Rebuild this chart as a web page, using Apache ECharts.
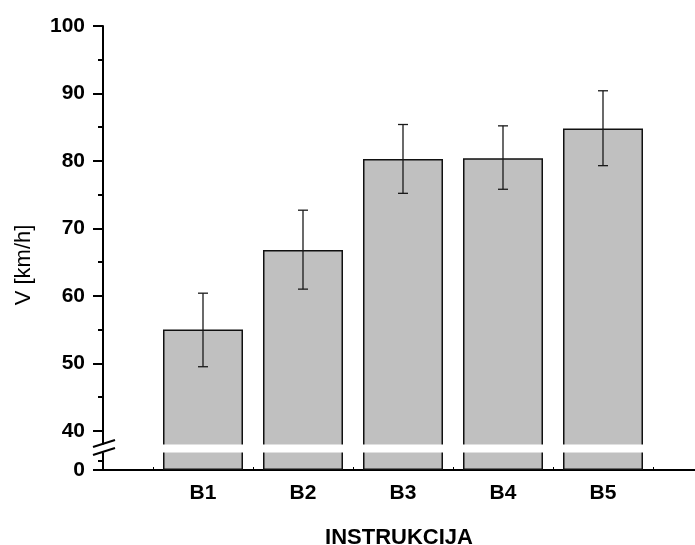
<!DOCTYPE html>
<html>
<head>
<meta charset="utf-8">
<script src="https://cdn.jsdelivr.net/npm/echarts@6/dist/echarts.min.js"></script>
<style>html,body{margin:0;padding:0;background:#fff}#c{width:695px;height:545px}</style>
</head>
<body>
<div id="c"></div>
<script>
var categories = ['B1', 'B2', 'B3', 'B4', 'B5'];
var means = [55.0, 66.8, 80.3, 80.4, 84.8];
var errLow = [49.5, 61.0, 75.2, 75.8, 79.3];
var errHigh = [60.4, 72.7, 85.4, 85.2, 90.4];
var yMajorTicks = [40, 50, 60, 70, 80, 90, 100];
var yMinorTicks = [45, 55, 65, 75, 85, 95];
var lowerMajorTicks = [0];
var lowerMinorTicks = [1];
var xTitle = 'INSTRUKCIJA';
var yTitle = 'V [km/h]';

var FONT = '"Liberation Sans", Arial, sans-serif';
var chart = echarts.init(document.getElementById('c'), null, {renderer: 'canvas'});

var barData = categories.map(function (c, i) { return [i + 1, means[i]]; });
var errData = categories.map(function (c, i) { return [i + 1, errLow[i], errHigh[i]]; });

var barStyle = {color: '#c0c0c0', borderColor: '#111', borderWidth: 1.5};

function xAx(grid, showAll) {
  return {
    type: 'value', gridIndex: grid, min: 0, max: 5.92, interval: 0.5,
    axisLine: {show: showAll, lineStyle: {color: '#000', width: 2}},
    axisTick: {show: showAll, inside: true, length: 3, lineStyle: {color: '#000', width: 1}},
    splitLine: {show: false},
    axisLabel: {
      show: showAll, margin: 13, color: '#000', fontFamily: FONT, fontWeight: 'bold', fontSize: 21,
      formatter: function (v) {
        var k = Math.round(v);
        return (Math.abs(v - k) < 1e-6 && k >= 1 && k <= categories.length) ? categories[k - 1] : '';
      }
    },
    name: showAll ? xTitle : '', nameLocation: 'middle', nameGap: 57,
    nameTextStyle: {color: '#000', fontFamily: FONT, fontWeight: 'bold', fontSize: 22}
  };
}

function yAx(grid, min, max, ticks, len, line, labels) {
  return {
    type: 'value', gridIndex: grid, min: min, max: max, position: 'left',
    axisLine: {show: line, lineStyle: {color: '#000', width: 2}},
    axisTick: {show: true, customValues: ticks, length: len, lineStyle: {color: '#000', width: 2}},
    axisLabel: {show: labels, customValues: ticks, margin: 18, color: '#000', fontFamily: FONT, fontWeight: 'bold', fontSize: 21},
    splitLine: {show: false}
  };
}

var option = {
  animation: false,
  backgroundColor: '#fff',
  grid: [
    {left: 103, right: 0, top: 26, height: 420, containLabel: false, outerBoundsMode: 'none'},
    {left: 103, right: 0, top: 451, height: 19, containLabel: false, outerBoundsMode: 'none'}
  ],
  xAxis: [xAx(0, false), xAx(1, true)],
  yAxis: [
    yAx(0, 37.75, 100, yMajorTicks, 10, true, true),
    yAx(0, 37.75, 100, yMinorTicks, 5, false, false),
    yAx(1, 0, 2, lowerMajorTicks, 10, true, true),
    yAx(1, 0, 2, lowerMinorTicks, 5, false, false)
  ],
  series: [
    {type: 'bar', xAxisIndex: 0, yAxisIndex: 0, data: barData, barWidth: 80, clip: true, itemStyle: barStyle},
    {type: 'bar', xAxisIndex: 1, yAxisIndex: 2, data: barData, barWidth: 80, clip: true, itemStyle: barStyle},
    {
      type: 'custom', xAxisIndex: 0, yAxisIndex: 0, data: errData, z: 10,
      renderItem: function (params, api) {
        var x = api.value(0);
        var lo = api.coord([x, api.value(1)]);
        var hi = api.coord([x, api.value(2)]);
        var w = 5;
        var st = {stroke: '#1a1a1a', lineWidth: 1.3};
        return {type: 'group', children: [
          {type: 'line', shape: {x1: lo[0], y1: lo[1], x2: hi[0], y2: hi[1]}, style: st},
          {type: 'line', shape: {x1: lo[0] - w, y1: lo[1], x2: lo[0] + w, y2: lo[1]}, style: st},
          {type: 'line', shape: {x1: hi[0] - w, y1: hi[1], x2: hi[0] + w, y2: hi[1]}, style: st}
        ]};
      }
    }
  ],
  graphic: [
    {type: 'rect', z: 50, shape: {x: 98, y: 444.5, width: 600, height: 8}, style: {fill: '#fff'}},
    {type: 'line', z: 100, shape: {x1: 93, y1: 447, x2: 115, y2: 440}, style: {stroke: '#000', lineWidth: 2}},
    {type: 'line', z: 100, shape: {x1: 93, y1: 455, x2: 115, y2: 448}, style: {stroke: '#000', lineWidth: 2}},
    {type: 'text', x: 24, y: 265, rotation: Math.PI / 2,
     style: {text: yTitle, fill: '#000', font: '22px ' + FONT, textAlign: 'center', textVerticalAlign: 'middle'}}
  ]
};
chart.setOption(option);
</script>
</body>
</html>
